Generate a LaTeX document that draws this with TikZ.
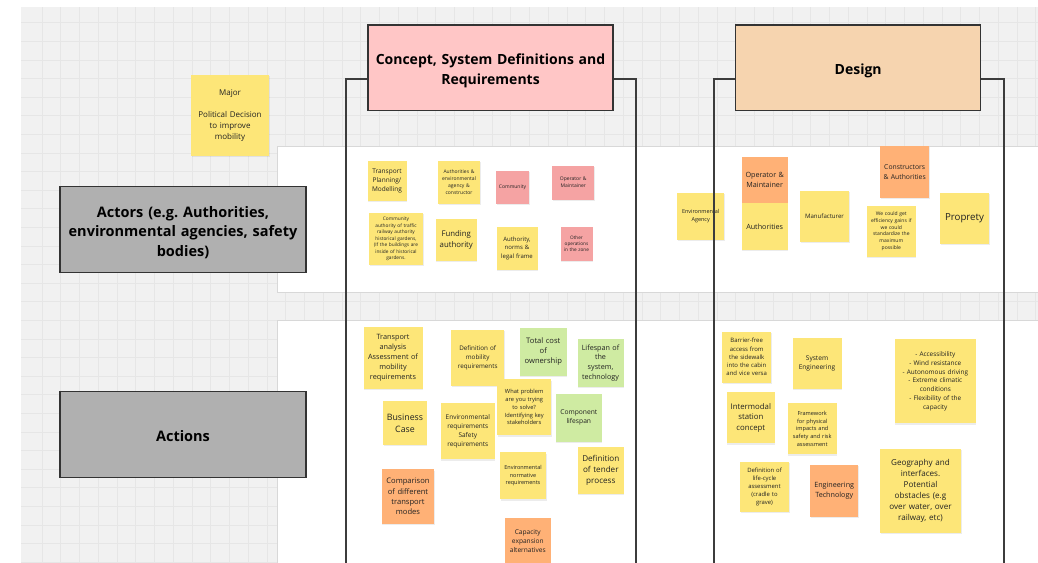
\documentclass[tikz,border=0pt]{standalone}
\usepackage{fontspec}
\setmainfont{Open Sans}
\usetikzlibrary{shadows,calc}
\frenchspacing
\newcommand\mystrut[1]{\rule{0pt}{#1}}
\definecolor{canvas}{HTML}{F1F1F1}
\definecolor{gridc}{HTML}{E6E6E6}
\definecolor{bandc}{HTML}{D8D8D8}
\definecolor{ny}{HTML}{FDE678}
\definecolor{np}{HTML}{F5A3A3}
\definecolor{no}{HTML}{FFB176}
\definecolor{ng}{HTML}{CFEBA2}
\definecolor{hpink}{HTML}{FFC6C6}
\definecolor{hpeach}{HTML}{F6D4AF}
\definecolor{boxgray}{HTML}{B0B0B0}
\definecolor{edge}{HTML}{333333}
\definecolor{linec}{HTML}{3C3C3C}
\definecolor{ntext}{HTML}{222222}
\tikzset{
  fs/.code={\pgfmathsetmacro\lsk{1.36*#1}\pgfkeysalso{font/.expanded={\noexpand\fontsize{#1}{\lsk}\noexpand\selectfont}}},
  sz/.code 2 args={\pgfmathsetmacro\tw{#1-3}\pgfkeysalso{minimum width=#1pt, minimum height=#2pt, text width/.expanded=\tw pt}},
  note/.style={inner sep=0pt, align=center, text=ntext, drop shadow={shadow xshift=0.5pt, shadow yshift=-1.3pt, opacity=0.15}},
  yel/.style={note, fill=ny},
  pnk/.style={note, fill=np},
  org/.style={note, fill=no},
  grn/.style={note, fill=ng},
  gbox/.style={draw=edge, line width=1.5pt, fill=boxgray, align=center, inner sep=0pt,
    font=\bfseries\fontsize{14.5}{19.7}\selectfont, text width=240pt, minimum width=246pt, minimum height=86pt},
  hbox/.style={draw=edge, line width=1.5pt, align=center, inner sep=0pt,
    font=\bfseries\fontsize{14}{19.7}\selectfont, text width=243pt, minimum width=245pt, minimum height=85.7pt},
  bracket/.style={draw=linec, line width=1.6pt},
}
\begin{document}
\begin{tikzpicture}[x=1pt,y=-1pt]
\useasboundingbox (0,0) rectangle (1038,562);
\fill[white] (0,0) rectangle (1038,562);
\fill[canvas] (21,7) rectangle (1038,562);
\foreach \i in {0,...,53} {\draw[gridc, line width=0.8pt] ({42+\i*18.75},7) -- ({42+\i*18.75},562);}
\foreach \j in {0,...,29} {\draw[gridc, line width=0.8pt] (21,{22.7+\j*18.6}) -- (1038,{22.7+\j*18.6});}
\draw[bandc, fill=white, line width=0.8pt] (277,146) rectangle (1040,292);
\draw[bandc, fill=white, line width=0.8pt] (277,320) rectangle (1040,564);

% headers
\node[hbox, fill=hpink] (hc) at (490.5,67.8) {\mystrut{16.5pt}Concept, System Definitions and\\Requirements};
\node[hbox, fill=hpeach] (hd) at (858.2,67.8) {\mystrut{16.5pt}Design};

% row labels
\node[gbox] (actors) at (183,229.7) {\mystrut{16.5pt}Actors (e.g. Authorities,\\environmental agencies, safety\\bodies)};
\node[gbox] (actions) at (183,434.7) {\mystrut{13pt}Actions};

% major
\node[yel, sz={78}{81}, fs=8] (major) at (230,115.5) {Major\\\mbox{}\\Political Decision\\to improve\\mobility};

% actors / concept
\node[yel, sz={39}{40}, fs=6.5] (a1) at (387,181) {Transport\\Planning/\\Modelling};
\node[yel, sz={42}{43}, fs=5] (a2) at (459,182) {Authorities \&\\environmental\\agency \&\\constructor};
\node[pnk, sz={33}{33}, fs=5] (a3) at (512.5,187.6) {Community};
\node[pnk, sz={42}{34}, fs=5] (a4) at (573.3,182.5) {Operator \&\\Maintainer};
\node[yel, sz={54}{52}, fs=4.8] (a5) at (396,239) {Community\\authority of traffic\\railway authority\\historical gardens,\\(If the buildings are\\inside of historical\\gardens.};
\node[yel, sz={41}{42}, fs=7.8] (a6) at (456.3,240) {Funding\\authority};
\node[yel, sz={41}{43}, fs=6] (a7) at (517,248.3) {Authority,\\norms \&\\legal frame};
\node[pnk, sz={32}{34}, fs=4.7] (a8) at (576.5,243.8) {Other\\operations\\in the zone};

% actors / design
\node[yel, sz={47}{47}, fs=5.5] (b1) at (700.7,216.3) {Environmental\\Agency};
\node[org, sz={46}{45.4}, fs=7.2] (b2) at (764.7,180) {Operator \&\\Maintainer};
\node[yel, sz={46}{47}, fs=7.2] (b3) at (764.7,226.3) {Authorities};
\node[yel, sz={49}{51}, fs=6.1] (b4) at (824.5,216.3) {Manufacturer};
\node[org, sz={49}{52}, fs=6.8] (b5) at (904.7,172) {Constructors\\\& Authorities};
\node[yel, sz={49}{51}, fs=5] (b6) at (891.3,231.2) {We could get\\efficiency gains if\\we could\\standardize the\\maximum\\possible};
\node[yel, sz={49}{51}, fs=9.7] (b7) at (964.5,218) {Proprety};

% actions / concept
\node[yel, sz={59}{62}, fs=7.3] (c1) at (393,357.5) {Transport\\analysis\\Assessment of\\mobility\\requirements};
\node[yel, sz={53}{56}, fs=6.3] (c2) at (477.7,357.8) {Definition of\\mobility\\requirements};
\node[grn, sz={47}{48}, fs=7.6] (c3) at (543.3,351.5) {Total cost\\of\\ownership};
\node[grn, sz={46}{48}, fs=7.2] (c4) at (600.5,362.8) {Lifespan of\\the\\system,\\technology};
\node[yel, sz={54}{56}, fs=5.7] (c5) at (524.2,407.2) {What problem\\are you trying\\to solve?\\Identifying key\\stakeholders};
\node[yel, sz={43.4}{44}, fs=8.8] (c6) at (405,423) {Business\\Case};
\node[yel, sz={54}{56}, fs=6.5] (c7) at (467.8,431.3) {Environmental\\requirements\\Safety\\requirements};
\node[grn, sz={46}{48}, fs=6.7] (c8) at (578.8,417.8) {Component\\lifespan};
\node[org, sz={52.6}{54.7}, fs=7.6] (c9) at (408,496.7) {Comparison\\of different\\transport\\modes};
\node[yel, sz={46}{47}, fs=5.5] (c10) at (523,475.8) {Environmental\\normative\\requirements};
\node[yel, sz={46}{47}, fs=8.1] (c11) at (600.8,470.3) {Definition\\of tender\\process};
\node[org, sz={46}{47}, fs=6.6] (c12) at (527.8,541) {Capacity\\expansion\\alternatives};

% actions / design
\node[yel, sz={49}{51}, fs=6] (d1) at (746.7,357) {Barrier-free\\access from\\the sidewalk\\into the cabin\\and vice versa};
\node[yel, sz={49}{51}, fs=6.6] (d2) at (817,363) {System\\Engineering};
\node[yel, sz={81}{84}, fs=6.4] (d3) at (935.3,381.3) {- Accessibility\\- Wind resistance\\- Autonomous driving\\- Extreme climatic\\conditions\\- Flexibility of the\\capacity};
\node[yel, sz={48}{51}, fs=7.8] (d4) at (750.8,417.7) {Intermodal\\station\\concept};
\node[yel, sz={49}{51}, fs=5.6] (d5) at (812.2,428.7) {Framework\\for physical\\impacts and\\safety and risk\\assessment};
\node[yel, sz={49}{50}, fs=5.9] (d6) at (764.5,486.7) {Definition of\\life-cycle\\assessment\\(cradle to\\grave)};
\node[org, sz={48}{52}, fs=7.2] (d7) at (834.2,490.8) {Engineering\\Technology};
\node[yel, sz={81}{84}, fs=8.1] (d8) at (920.5,490.5) {Geography and\\interfaces.\\Potential\\obstacles (e.g\\over water, over\\railway, etc)};

% column brackets
\coordinate (cL) at (346,563);
\coordinate (cR) at (636,563);
\coordinate (dL) at (714,563);
\coordinate (dR) at (1004,563);
\draw[bracket] ($(hc.north west)!0.63!(hc.south west)$) -| (cL);
\draw[bracket] ($(hc.north east)!0.63!(hc.south east)$) -| (cR);
\draw[bracket] ($(hd.north west)!0.63!(hd.south west)$) -| (dL);
\draw[bracket] ($(hd.north east)!0.63!(hd.south east)$) -| (dR);
\end{tikzpicture}
\end{document}
